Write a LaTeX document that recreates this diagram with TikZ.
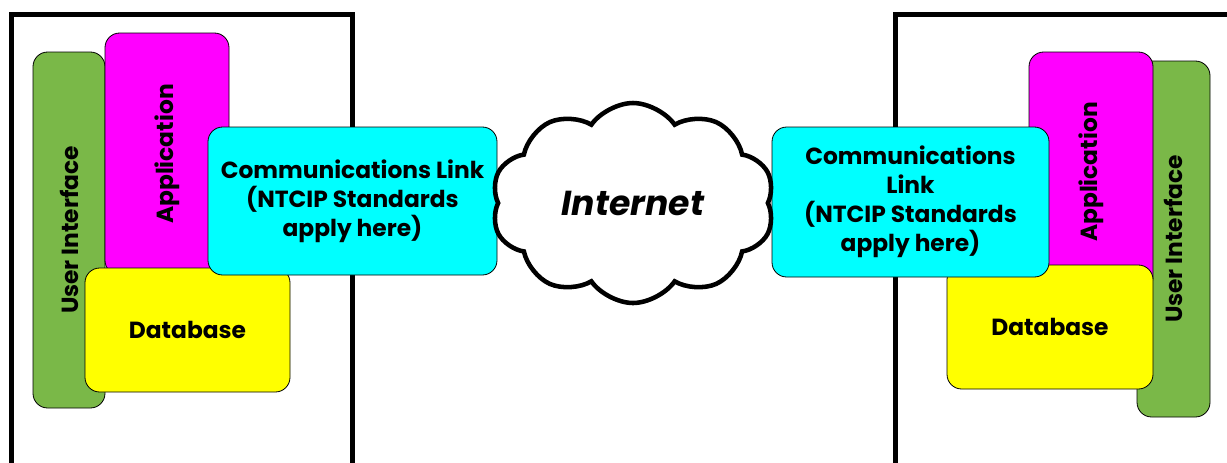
\documentclass[tikz,border=0pt]{standalone}
\usepackage{fontspec}
\setmainfont{Poppins}
\usetikzlibrary{shapes.symbols}
\definecolor{uigreen}{RGB}{122,184,72}
\definecolor{appmagenta}{RGB}{255,0,255}
\definecolor{dbyellow}{RGB}{255,255,0}
\definecolor{linkcyan}{RGB}{0,255,255}
\begin{document}
\begin{tikzpicture}[
  x=0.75pt, y=-0.75pt,
  frame/.style={line width=3.75pt, line join=miter},
  part/.style={draw=black, line width=0.6pt, rounded corners=11pt, inner sep=0pt,
    align=center, font=\bfseries\fontsize{17.5}{21.75}\selectfont},
  size/.style 2 args={minimum width=#1*0.75pt, minimum height=#2*0.75pt},
  net/.style={cloud, cloud puffs=10, cloud puff arc=110, draw=black, fill=white,
    line width=3.4pt, inner sep=-30pt, font=\bfseries\itshape\fontsize{26}{30}\selectfont}
]
\useasboundingbox (0,0) rectangle (1227,462);
% Computer frames (open at the bottom / right edge)
\draw[frame] (11,470) -- (11,14.5) -- (352.5,14.5) -- (352.5,470);
\draw[frame] (895,470) -- (895,14.5) -- (1240,14.5);
% Left computer
\node[part, fill=uigreen, size={356}{72}, rotate=90] (uiL) at (69,230) {User Interface};
\node[part, fill=appmagenta, size={242}{124}, rotate=90] (appL) at (167,154) {Application};
\node[part, fill=dbyellow, size={205}{124}] (dbL) at (187.5,330) {Database};
\node[part, fill=linkcyan, size={289}{148}] (linkL) at (352.5,201)
  {Communications Link\\(NTCIP Standards\\apply here)};
% Right computer
\node[part, fill=uigreen, size={356}{73}, rotate=90] (uiR) at (1173.5,239) {User Interface};
\node[part, fill=appmagenta, size={240}{124}, rotate=90] (appR) at (1091,172) {Application};
\node[part, fill=dbyellow, size={206}{124}] (dbR) at (1050,327) {Database};
\node[part, fill=linkcyan, size={277}{150}] (linkR) at (910.5,202)
  {Communications\\Link\\(NTCIP Standards\\apply here)};
% Network in between
\node[net, size={283}{200}] (inet) at (633,203) {Internet};
\end{tikzpicture}
\end{document}
